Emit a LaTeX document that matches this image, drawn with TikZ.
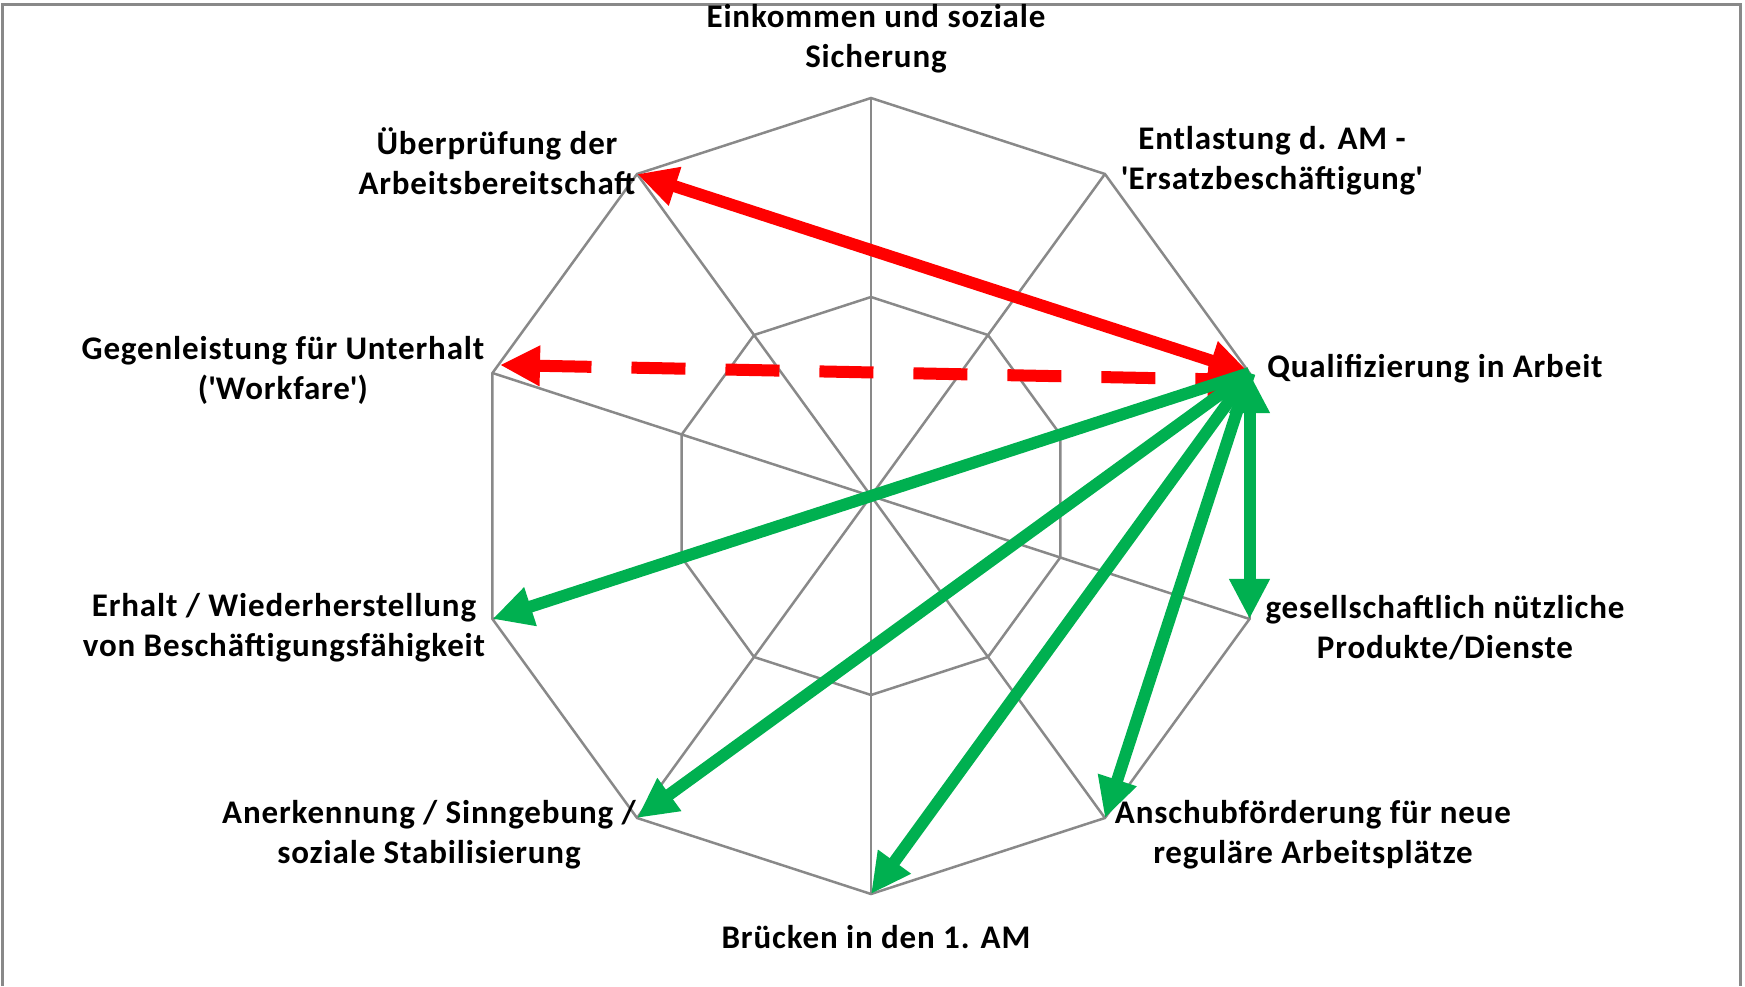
\documentclass[tikz,border=0pt]{standalone}
\usepackage{fontspec}
\setmainfont{Carlito}[LetterSpace=2.6]
\usetikzlibrary{arrows.meta}
\definecolor{webgray}{RGB}{137,137,137}
\definecolor{xlred}{RGB}{255,0,0}
\definecolor{xlgreen}{RGB}{0,176,80}

\begin{document}
\begin{tikzpicture}[x=1pt, y=1pt]
        \tikzset{
        web line/.style={draw=webgray, line width=2.5pt},
        axis label/.style={align=center, inner sep=0, font=\fontsize{33}{40}\selectfont\bfseries},
        fat arrow/.style={line width=12pt, -{Triangle[length=40pt,width=38pt]}},
        fat both/.style={line width=12pt, {Triangle[length=40pt,width=38pt]}-{Triangle[length=40pt,width=38pt]}}
        }
        \useasboundingbox (-871,-490) rectangle (874,496);

        % frame
        \draw[webgray, line width=3pt] (-868,-490) -- (-868,491) -- (869,491) -- (869,-490);

        % net
        \foreach \k in {0,...,9} {
            \coordinate (o\k) at (90-36*\k:398);
            \coordinate (i\k) at (90-36*\k:199);
            \draw[web line] (0,0) -- (o\k);
        }
        \draw[web line] (o0) \foreach \k in {1,...,9} {-- (o\k)} -- cycle;
        \draw[web line] (i0) \foreach \k in {1,...,9} {-- (i\k)} -- cycle;

        % ends of the dashed arrow
        \coordinate (d8) at (-371,131);
        \coordinate (d2) at (377,116);

        % labels
        \node[axis label] (l0) at (5,457) {Einkommen und soziale\\Sicherung};
        \node[axis label] (l1) at (401,335) {Entlastung d. AM -\\\textquotesingle Ersatzbeschäftigung\textquotesingle};
        \node[axis label] (l2) at (564,127) {Qualifizierung in Arbeit};
        \node[axis label] (l3) at (574,-132) {gesellschaftlich nützliche\\Produkte/Dienste};
        \node[axis label] (l4) at (442,-339) {Anschubförderung für neue\\reguläre Arbeitsplätze};
        \node[axis label] (l5) at (5,-441) {Brücken in den 1. AM};
        \node[axis label] (l6) at (-442,-339) {Anerkennung / Sinngebung /\\soziale Stabilisierung};
        \node[axis label] (l7) at (-587,-132) {Erhalt / Wiederherstellung\\von Beschäftigungsfähigkeit};
        \node[axis label] (l8) at (-588,126) {Gegenleistung für Unterhalt\\(\textquotesingle Workfare\textquotesingle)};
        \node[axis label] (l9) at (-374,335) {Überprüfung der\\Arbeitsbereitschaft};

        % arrows
        \path[draw=xlred]
        (o9) edge[fat both, xlred] (o2)
        (d8) edge[fat both, xlred, dash pattern=on 54pt off 40pt] (d2)
        ;
        \path[draw=xlgreen]
        (o2) edge[fat both, xlgreen] (o3)
        (o2) edge[fat arrow, xlgreen] (o4)
        (o2) edge[fat arrow, xlgreen] (o5)
        (o2) edge[fat arrow, xlgreen] (o6)
        (o2) edge[fat arrow, xlgreen] (o7)
        ;
\end{tikzpicture}
\end{document}
